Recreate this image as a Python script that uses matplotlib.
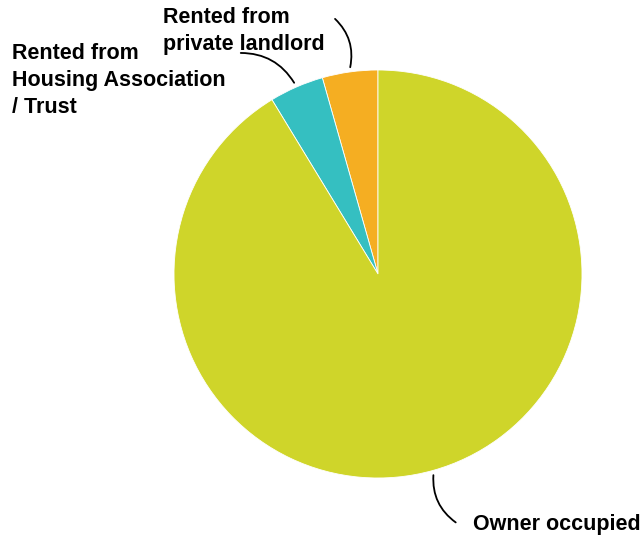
import numpy as np
import matplotlib
matplotlib.use("Agg")
import matplotlib.pyplot as plt

plt.rcParams['font.family'] = ['Liberation Sans', 'DejaVu Sans']

# tenure shares (%)
categories = ['Rented from\nprivate landlord',
              'Rented from\nHousing Association\n/ Trust',
              'Owner occupied']
shares = [4.4, 4.3, 91.3]
colors = ['#F5AE22', '#35BFC1', '#CFD52A']

W, H = 644, 543
fig = plt.figure(figsize=(W / 100, H / 100), dpi=100)
ax = fig.add_axes([0, 0, 1, 1])

cx, cy, r = 378, 269, 204
wedges, _ = ax.pie(shares, colors=colors, startangle=90, counterclock=True,
                   center=(cx, cy), radius=r, frame=True,
                   wedgeprops=dict(edgecolor='white', linewidth=0.6))
ax.set_xlim(0, W)
ax.set_ylim(0, H)
ax.set_aspect('equal')
ax.axis('off')

# label placement (pixel coords from top-left), leader end point and bend
label_pos = [(163, 7), (12, 43), (473, 514)]
leader_end = [(333, 17), (238, 53), (458, 524)]
bends = [-0.3, -0.3, -0.3]

for w, lab, (lx, ly), (ex, ey), rad in zip(wedges, categories, label_pos, leader_end, bends):
    ang = np.deg2rad((w.theta1 + w.theta2) / 2)
    px = cx + r * 1.01 * np.cos(ang)
    py = cy + r * 1.01 * np.sin(ang)
    ax.text(lx, H - ly, lab, ha='left', va='top', fontsize=15.5,
            fontweight='bold', linespacing=1.36, color='black')
    ax.annotate('', xy=(px, py), xytext=(ex, H - ey),
                arrowprops=dict(arrowstyle='-', color='black', lw=1.3,
                                connectionstyle='arc3,rad=%s' % rad))

fig.savefig('out.png', dpi=100)
